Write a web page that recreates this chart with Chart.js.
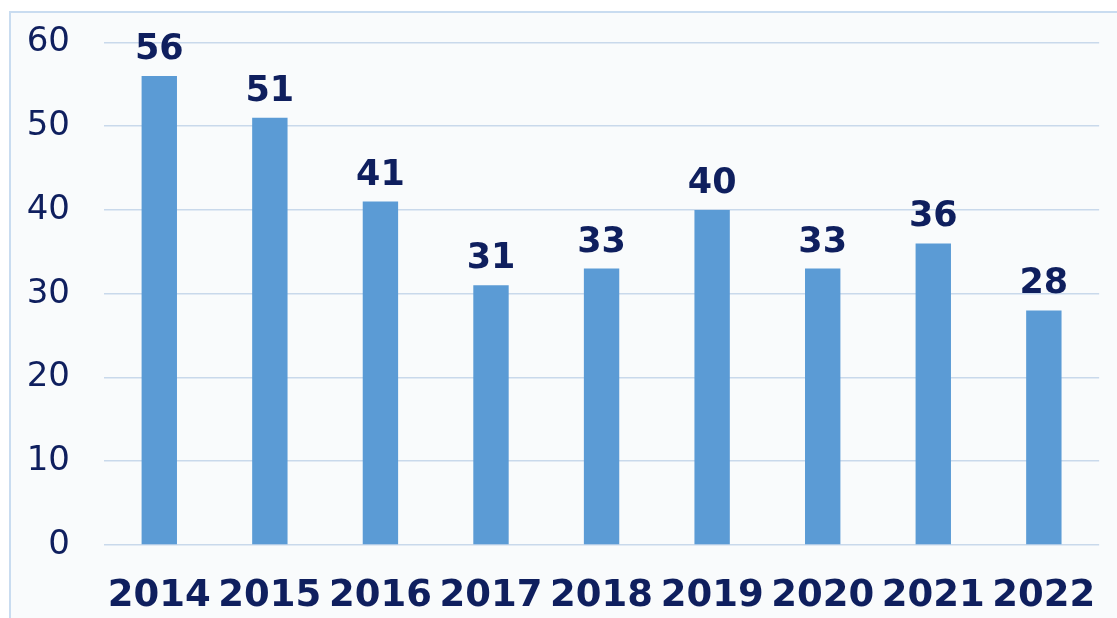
<!DOCTYPE html>
<html>
<head>
<meta charset="utf-8">
<script src="https://cdn.jsdelivr.net/npm/chart.js@4/dist/chart.umd.min.js"></script>
<style>
  body { margin: 0; background: #fff; }
  #frame {
    position: absolute; left: 9px; top: 11px; width: 1120px; height: 620px;
    background: #f9fbfc; border-left: 2px solid #c9dcf0; border-top: 2px solid #c9dcf0;
  }
  #wrap { position: absolute; left: 0; top: 0; width: 1117px; height: 618px; }
</style>
</head>
<body>
<div id="frame"></div>
<div id="wrap"><canvas id="myBarChart"></canvas></div>
<script>
  var years = ["2014", "2015", "2016", "2017", "2018", "2019", "2020", "2021", "2022"];
  var valores = [56, 51, 41, 31, 33, 40, 33, 36, 28];
  var navy = "#0f1f5e";

  // etiquetas encima de cada barra
  var etiquetas = {
    id: "etiquetas",
    afterDatasetsDraw: function (chart) {
      var ctx = chart.ctx;
      var meta = chart.getDatasetMeta(0);
      ctx.save();
      ctx.fillStyle = navy;
      ctx.font = "bold 35px 'DejaVu Sans'";
      ctx.textAlign = "center";
      meta.data.forEach(function (bar, i) {
        ctx.fillText(valores[i], bar.x, bar.y - 17);
      });
      ctx.restore();
    },
  };

  var ctx = document.getElementById("myBarChart");
  new Chart(ctx, {
    type: "bar",
    data: {
      labels: years,
      datasets: [
        {
          label: "Valores",
          data: valores,
          backgroundColor: "#5b9bd5",
          borderWidth: 0,
          barPercentage: 0.32,
          categoryPercentage: 1,
        },
      ],
    },
    options: {
      responsive: true,
      maintainAspectRatio: false,
      animation: false,
      layout: { padding: { top: 0, right: 12, left: 0, bottom: 0 } },
      plugins: {
        legend: { display: false },
        tooltip: { enabled: false },
      },
      scales: {
        x: {
          grid: { display: false },
          border: { display: false },
          ticks: {
            color: navy,
            font: { family: "DejaVu Sans", size: 37, weight: "bold" },
            padding: 21,
            maxRotation: 0,
            autoSkip: false,
          },
          afterFit: function (axis) { axis.height = 73; },
        },
        y: {
          min: 0,
          max: 60,
          ticks: {
            stepSize: 10,
            color: navy,
            font: { family: "DejaVu Sans", size: 34 },
            padding: 22,
          },
          grid: {
            color: "#c9d9eb",
            lineWidth: 1.5,
            drawTicks: true,
            tickLength: 12,
            tickColor: "rgba(0,0,0,0)",
          },
          border: { display: false },
          afterFit: function (axis) { axis.width = 104; },
        },
      },
    },
    plugins: [etiquetas],
  });
</script>
</body>
</html>
